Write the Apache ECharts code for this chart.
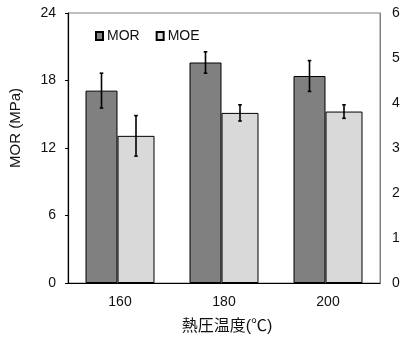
<!DOCTYPE html>
<html>
<head>
<meta charset="utf-8">
<script src="https://cdn.jsdelivr.net/npm/echarts@6/dist/echarts.min.js"></script>
<style>
html,body{margin:0;padding:0;background:#fff;}
#c{width:400px;height:338px;}
</style>
</head>
<body>
<div id="c"></div>
<script>
const categories = ['160', '180', '200'];
const morValues = [17.1, 19.6, 18.4];
const morErrors = [1.55, 0.95, 1.37];
const moeValues = [3.27, 3.78, 3.81];
const moeErrors = [0.45, 0.18, 0.15];
const leftTicks = [0, 24, 6];   // min, max, interval
const rightTicks = [0, 6, 1];

const FONT = "'Liberation Sans', Arial, 'Noto Sans CJK JP', sans-serif";
const TXT = '#111';
const mW = 32, eW = 37;
const total = mW + eW;
const offM = -total / 2 + mW / 2;
const offE = -total / 2 + mW + eW / 2;

function errRender(offset) {
  return function (params, api) {
    const xi = api.value(0), v = api.value(1), e = api.value(2);
    const c = api.coord([xi, v]);
    const t = api.coord([xi, v + e]);
    const b = api.coord([xi, v - e]);
    const x = c[0] + offset;
    const st = { stroke: '#000', lineWidth: 1.6 };
    const cap = 1.8;
    return {
      type: 'group',
      children: [
        { type: 'line', shape: { x1: x, y1: t[1], x2: x, y2: b[1] }, style: st },
        { type: 'line', shape: { x1: x - cap, y1: t[1], x2: x + cap, y2: t[1] }, style: st },
        { type: 'line', shape: { x1: x - cap, y1: b[1], x2: x + cap, y2: b[1] }, style: st }
      ]
    };
  };
}

const chart = echarts.init(document.getElementById('c'), null, { renderer: 'canvas' });
chart.setOption({
  animation: false,
  backgroundColor: '#fff',
  textStyle: { fontFamily: FONT },
  grid: {
    left: 68, right: 20, top: 13, bottom: 55,
    containLabel: false, outerBoundsMode: 'none',
    show: true, borderColor: '#808080', borderWidth: 1
  },
  legend: {
    data: ['MOR', 'MOE'],
    icon: 'rect',
    left: 95, top: 29, padding: 0,
    itemWidth: 7, itemHeight: 8, itemGap: 16,
    textStyle: { fontSize: 14, color: TXT, fontFamily: FONT, padding: [0, 0, 0, -1] }
  },
  graphic: [{
    type: 'text',
    x: 16, y: 128,
    rotation: Math.PI / 2,
    style: {
      text: 'MOR (MPa)',
      font: '15px ' + FONT,
      fill: TXT,
      align: 'center',
      verticalAlign: 'middle'
    }
  }],
  xAxis: {
    type: 'category',
    data: categories,
    name: '熱圧温度(℃)',
    nameLocation: 'middle',
    nameGap: 36,
    nameTextStyle: { fontSize: 16, color: TXT, fontFamily: FONT, padding: [0, 0, 0, 6] },
    axisLine: { lineStyle: { color: '#000', width: 1.2 } },
    axisTick: { show: false },
    axisLabel: { fontSize: 14, color: TXT, margin: 12 }
  },
  yAxis: [
    {
      type: 'value',
      min: leftTicks[0], max: leftTicks[1], interval: leftTicks[2],
      axisLine: { show: true, lineStyle: { color: '#000', width: 1.2 } },
      axisTick: { show: true, inside: false, length: 3, lineStyle: { color: '#000' } },
      axisLabel: { fontSize: 14, color: TXT, margin: 12 },
      splitLine: { show: false }
    },
    {
      type: 'value',
      min: rightTicks[0], max: rightTicks[1], interval: rightTicks[2],
      axisLine: { show: true, lineStyle: { color: '#808080', width: 1 } },
      axisTick: { show: false },
      axisLabel: { fontSize: 14, color: TXT, margin: 12 },
      splitLine: { show: false }
    }
  ],
  series: [
    {
      name: 'MOR', type: 'bar', yAxisIndex: 0, data: morValues,
      barWidth: mW, barGap: '0%',
      itemStyle: { color: '#808080', borderColor: '#000', borderWidth: 1 }
    },
    {
      name: 'MOE', type: 'bar', yAxisIndex: 1, data: moeValues,
      barWidth: eW, barGap: '0%',
      itemStyle: { color: '#d9d9d9', borderColor: '#000', borderWidth: 1 }
    },
    {
      name: 'MOR err', type: 'custom', yAxisIndex: 0, z: 10,
      renderItem: errRender(offM),
      data: categories.map((c, i) => [i, morValues[i], morErrors[i]]),
      encode: { x: 0, y: 1 }
    },
    {
      name: 'MOE err', type: 'custom', yAxisIndex: 1, z: 10,
      renderItem: errRender(offE),
      data: categories.map((c, i) => [i, moeValues[i], moeErrors[i]]),
      encode: { x: 0, y: 1 }
    }
  ]
});
</script>
</body>
</html>
